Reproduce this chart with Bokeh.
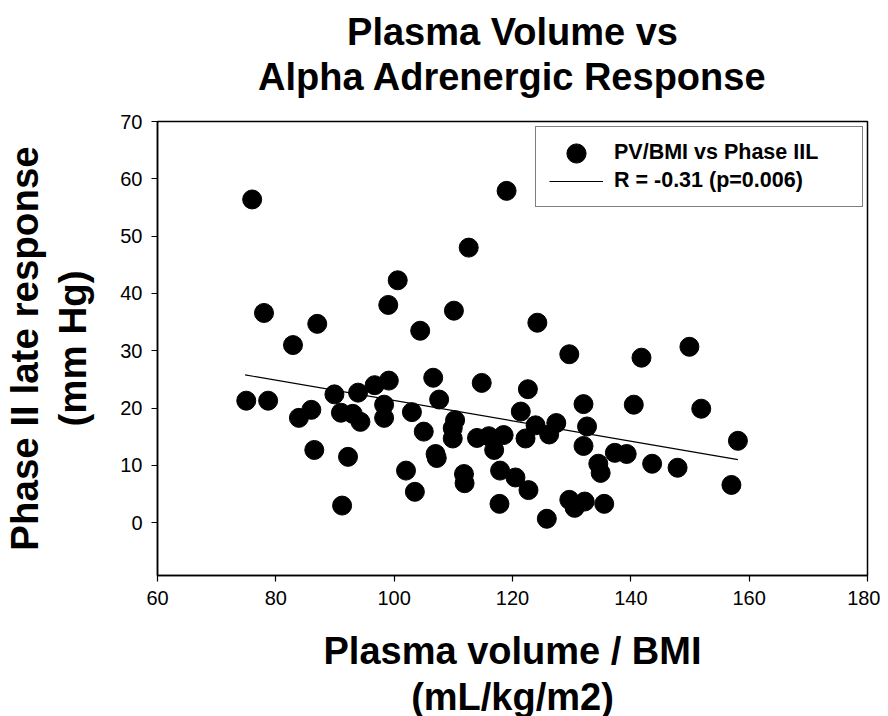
from bokeh.plotting import figure
from bokeh.models import Legend, LegendItem, FixedTicker, Range1d, Title
from bokeh.embed import file_html
from bokeh.resources import INLINE

# PV/BMI (mL/kg/m2) vs Phase II late response (mm Hg)
pv_bmi = [76.0, 78.0, 82.9, 87.0, 99.0, 100.6, 112.6, 119.0, 104.4, 110.1,
          124.2, 129.6, 141.8, 149.9, 140.5, 151.9, 158.1, 139.3, 143.6, 147.9,
          157.0, 75.0, 78.7, 83.9, 86.0, 86.5, 92.2, 91.2, 89.9, 91.0,
          93.0, 94.3, 93.9, 96.7, 99.1, 98.3, 98.3, 103.0, 106.6, 107.6,
          105.0, 110.3, 109.9, 109.9, 114.8, 114.0, 116.0, 116.9, 118.5, 107.0,
          107.2, 102.0, 103.5, 111.8, 111.9, 117.9, 117.8, 120.5, 122.7, 122.6,
          121.4, 122.2, 123.9, 126.2, 127.4, 125.8, 132.0, 132.6, 132.0, 129.6,
          130.5, 132.2, 135.5, 134.5, 134.9, 137.3]
phase_iil = [56.4, 36.6, 31.0, 34.7, 38.0, 42.3, 48.0, 57.9, 33.5, 37.0,
             34.9, 29.4, 28.8, 30.7, 20.6, 19.9, 14.3, 12.0, 10.3, 9.6,
             6.6, 21.3, 21.3, 18.3, 19.7, 12.7, 11.5, 3.0, 22.4, 19.2,
             19.0, 17.6, 22.7, 24.0, 24.8, 20.6, 18.3, 19.3, 25.3, 21.5,
             15.9, 17.9, 16.5, 14.7, 24.4, 14.8, 15.1, 12.7, 15.3, 12.0,
             11.3, 9.1, 5.4, 8.5, 6.9, 9.1, 3.3, 7.9, 5.7, 23.3,
             19.4, 14.7, 17.0, 15.4, 17.4, 0.7, 20.7, 16.8, 13.4, 4.0,
             2.6, 3.7, 3.3, 10.3, 8.7, 12.2]

# regression line end points
fit_x = [74.8, 158.1]
fit_y = [25.8, 11.0]

x_ticks = [60, 80, 100, 120, 140, 160, 180]
y_ticks = [0, 10, 20, 30, 40, 50, 60, 70]

FONT = "Liberation Sans"

p = figure(frame_width=710, frame_height=454,
           x_range=Range1d(60, 180), y_range=Range1d(-9.2, 70),
           output_backend="svg", toolbar_location=None,
           min_border_left=148, min_border_right=13,
           min_border_top=121, min_border_bottom=133)

def style_title(t, standoff, size="38px"):
    t.align = "center"
    t.text_font = FONT
    t.text_font_size = size
    t.text_font_style = "bold"
    t.text_color = "black"
    t.standoff = standoff

# panels stack outward from the frame in the order added; figure title outermost
spacer = Title(text=" ")
style_title(spacer, 20, size="1px")
p.add_layout(spacer, "above")
t2 = Title(text="Alpha Adrenergic Response")
style_title(t2, 1)
p.add_layout(t2, "above")
p.title.text = "Plasma Volume vs"
style_title(p.title, 1)

p.xgrid.visible = False
p.ygrid.visible = False
p.outline_line_color = "black"
p.outline_line_width = 1.5
p.background_fill_color = "white"
p.border_fill_color = "white"

for ax in (p.xaxis[0], p.yaxis[0]):
    ax.axis_line_color = "black"
    ax.axis_line_width = 1.5
    ax.major_tick_line_color = "black"
    ax.major_tick_line_width = 1.2
    ax.major_tick_out = 6
    ax.major_tick_in = 0
    ax.minor_tick_line_color = None
    ax.major_label_text_font = FONT
    ax.major_label_text_font_size = "20px"
    ax.major_label_text_color = "black"
    ax.axis_label_text_font = FONT
    ax.axis_label_text_font_size = "38px"
    ax.axis_label_text_font_style = "bold"
    ax.axis_label_text_color = "black"

p.yaxis.axis_label_text_font_size = "38.5px"
p.xaxis.ticker = FixedTicker(ticks=x_ticks)
p.yaxis.ticker = FixedTicker(ticks=y_ticks)
p.xaxis.major_label_standoff = 9
p.yaxis.major_label_standoff = 9
p.xaxis.axis_label = "Plasma volume / BMI\n(mL/kg/m2)"
p.yaxis.axis_label = "Phase II late response\n(mm Hg)"
p.xaxis.axis_label_standoff = 22
p.yaxis.axis_label_standoff = 23
p.yaxis.axis_label_text_line_height = 1.12
p.xaxis.axis_label_text_line_height = 1.1

pts = p.scatter(pv_bmi, phase_iil, size=19, fill_color="black", line_color="black")
ln = p.line(fit_x, fit_y, line_color="black", line_width=1.2)

legend = Legend(items=[LegendItem(label="PV/BMI vs Phase IIL", renderers=[pts]),
                       LegendItem(label="R = -0.31 (p=0.006)", renderers=[ln])],
                location=(378, 368))
legend.label_text_font = FONT
legend.label_text_font_size = "21.5px"
legend.label_text_font_style = "bold"
legend.label_text_color = "black"
legend.border_line_color = "black"
legend.border_line_width = 1.5
legend.background_fill_alpha = 1.0
legend.glyph_width = 54
legend.glyph_height = 24
legend.label_height = 24
legend.padding = 13
legend.spacing = 3
legend.label_standoff = 11
legend.label_width = 235
legend.margin = 0
p.add_layout(legend, "center")

# overlay legend that only draws the full-size marker symbol
marker_legend = Legend(items=[LegendItem(label=" ", renderers=[pts])],
                       location=(395, 398))
marker_legend.glyph_width = 48
marker_legend.glyph_height = 48
marker_legend.label_height = 48
marker_legend.label_width = 0
marker_legend.label_standoff = 0
marker_legend.padding = 0
marker_legend.margin = 0
marker_legend.border_line_color = None
marker_legend.background_fill_alpha = 0
marker_legend.label_text_font_size = "1px"
p.add_layout(marker_legend, "center")

open("out.html", "w").write(file_html(p, INLINE))
